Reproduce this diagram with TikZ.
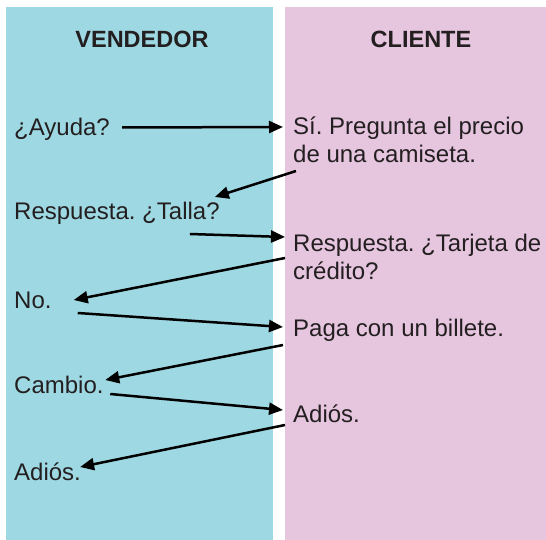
\documentclass[tikz,border=0pt]{standalone}
\usepackage{fontspec}
\setmainfont{Liberation Sans}
\usepackage{xcolor}
\usepackage{tikz}
\usetikzlibrary{calc,arrows.meta}

\definecolor{azul}{HTML}{9ED8E2}
\definecolor{rosa}{HTML}{E6C5DF}
\definecolor{tinta}{HTML}{231F20}

\frenchspacing

\begin{document}
\begin{tikzpicture}[x=1pt,y=-1pt,
  texto/.style={anchor=base west, inner sep=0pt, align=left, text=tinta,
    font=\fontsize{24}{28}\selectfont},
  titulo/.style={anchor=base, inner sep=0pt, text=tinta,
    font=\fontsize{23.5}{28}\selectfont\bfseries},
  flecha/.style={-{Triangle[length=14pt,width=12pt]}, line width=2.5pt}]

\useasboundingbox (0,0) rectangle (546,540);
\fill[azul] (6,7) rectangle (272.5,540);
\fill[rosa] (285,7) rectangle (546,540);

\node[titulo] (vendedor) at (142,48) {VENDEDOR};
\node[titulo] (cliente) at (421,48) {CLIENTE};

\node[texto] (ayuda) at (14,135.5) {¿Ayuda?};
\node[texto] (precio) at (293,163) {Sí. Pregunta el precio\\de una camiseta.};
\node[texto] (talla) at (14,220) {Respuesta. ¿Talla?};
\node[texto] (tarjeta) at (293,279) {Respuesta. ¿Tarjeta de\\crédito?};
\node[texto] (no) at (14,308) {No.};
\node[texto] (paga) at (293,336) {Paga con un billete.};
\node[texto] (cambio) at (14,393) {Cambio.};
\node[texto] (adiosc) at (293,422) {Adiós.};
\node[texto] (adiosv) at (14,480) {Adiós.};

\draw[flecha] ($(ayuda.base east)+(12,-8)$) -- ($(precio.base west)+(-10,-36)$);
\draw[flecha] ($(precio.base west)+(3,8)$) -- ($(talla.base east)+(-5,-23)$);
\draw[flecha] ($(talla.base east)+(-30,14)$) -- ($(tarjeta.base west)+(-8,-42)$);
\draw[flecha] ($(tarjeta.base west)+(-8,-21)$) -- ($(no.base east)+(22,-8)$);
\draw[flecha] ($(no.base east)+(26,5)$) -- ($(paga.base west)+(-10,-9)$);
\draw[flecha] ($(paga.base west)+(-10,9)$) -- ($(cambio.base east)+(1.5,-13)$);
\draw[flecha] ($(cambio.base east)+(6.5,1)$) -- ($(adiosc.base west)+(-10,-12)$);
\draw[flecha] ($(adiosc.base west)+(-8,3)$) -- ($(adiosv.base east)+(-1,-13)$);

\end{tikzpicture}
\end{document}
